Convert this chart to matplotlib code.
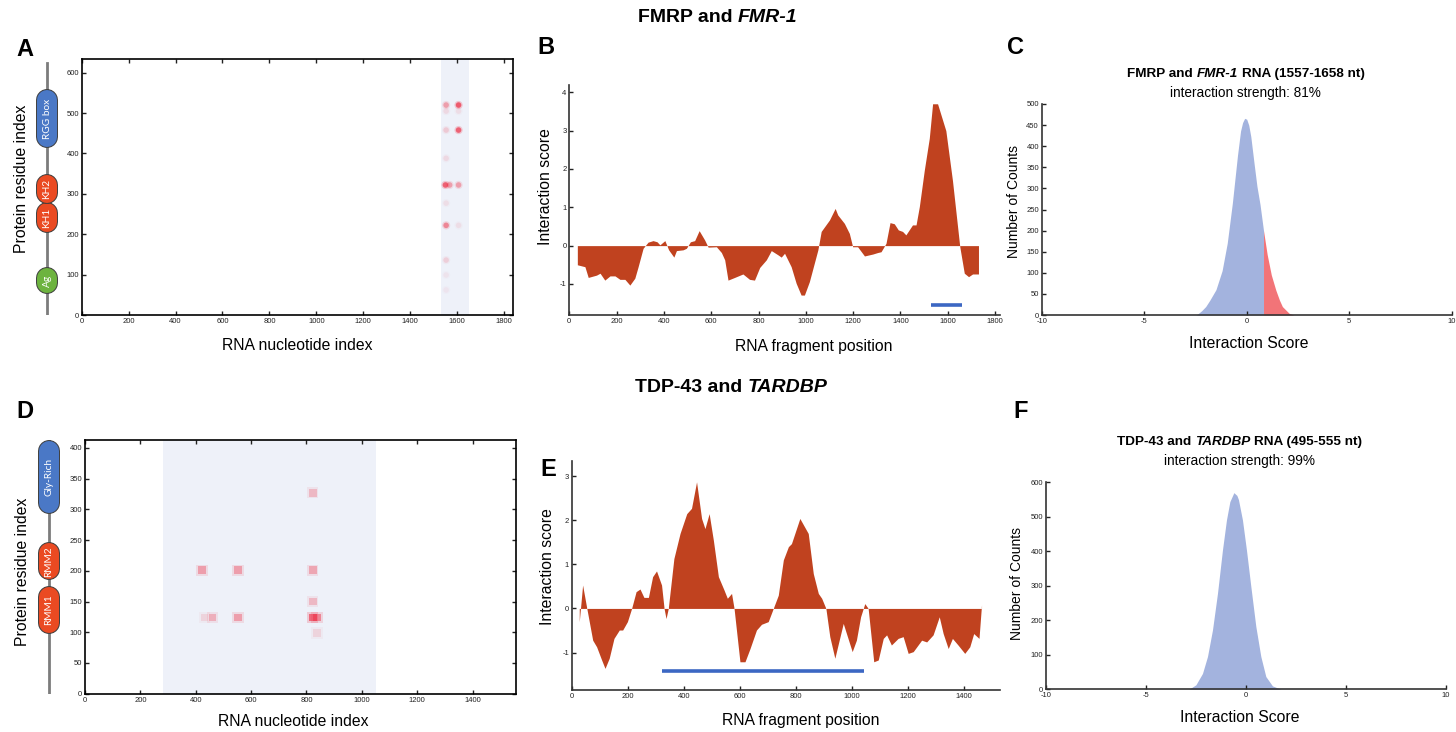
import numpy as np
import matplotlib.pyplot as plt
import matplotlib.patheffects as pe

plt.rcParams['font.family'] = ['Liberation Sans', 'DejaVu Sans']
plt.rcParams['axes.unicode_minus'] = False

# ── Data ─────────────────────────────────────────────────────────────────────
# A: FMRP / FMR-1 interaction map (spots: nucleotide, residue, intensity)
a_spot_nt = [1553, 1553, 1553, 1553, 1550, 1568, 1553, 1553, 1553, 1553, 1553,
             1606, 1606, 1606, 1606, 1606]
a_spot_res = [520, 505, 458, 388, 322, 322, 277, 222, 136, 99, 62,
              520, 505, 458, 322, 222]
a_spot_val = [0.45, 0.12, 0.2, 0.12, 0.85, 0.45, 0.1, 0.6, 0.18, 0.07, 0.06,
              0.9, 0.1, 0.85, 0.45, 0.1]
a_window = (1530, 1650)
a_dom_names = ['Ag', 'KH1', 'KH2', 'RGG box']
a_dom_start = [54, 205, 277, 416]
a_dom_end = [116, 277, 347, 557]
a_dom_colors = ['#6db33f', '#ea4a22', '#ea4a22', '#4a78c6']
a_length = 624

# B: FMRP / FMR-1 interaction profile
b_pos = [34, 66, 80, 115, 130, 150, 172, 193, 214, 235, 256, 277, 291, 312, 333,
         354, 371, 383, 404, 420, 442, 453, 481, 495, 512, 530, 549, 572, 587, 622,
         643, 657, 671, 699, 734, 762, 783, 805, 833, 854, 882, 896, 910, 938, 959,
         980, 994, 1015, 1051, 1065, 1100, 1124, 1135, 1163, 1184, 1198, 1219, 1248,
         1283, 1304, 1318, 1339, 1356, 1374, 1391, 1409, 1423, 1451, 1466, 1480,
         1501, 1522, 1536, 1557, 1592, 1620, 1651, 1670, 1688, 1705, 1730]
b_score = [-0.50, -0.55, -0.83, -0.77, -0.72, -0.90, -0.79, -0.79, -0.88, -0.88,
           -1.03, -0.85, -0.55, -0.07, 0.09, 0.13, 0.10, 0.02, 0.13, -0.11,
           -0.30, -0.13, -0.11, -0.07, 0.10, 0.13, 0.39, 0.15, -0.04, -0.03,
           -0.18, -0.37, -0.90, -0.83, -0.74, -0.88, -0.90, -0.57, -0.37, -0.13,
           -0.24, -0.30, -0.20, -0.55, -0.98, -1.29, -1.29, -0.94, -0.11, 0.37,
           0.67, 0.97, 0.80, 0.58, 0.32, -0.03, -0.03, -0.27, -0.22, -0.18,
           -0.16, 0.06, 0.60, 0.57, 0.41, 0.37, 0.28, 0.54, 0.54, 1.02,
           1.97, 2.80, 3.70, 3.70, 3.00, 1.70, -0.03, -0.72, -0.81, -0.74, -0.74]
b_region = (1529, 1660)

# C: FMRP score distribution
c_score = [-2.45, -2.2, -2.0, -1.8, -1.5, -1.2, -0.95, -0.7, -0.45, -0.3, -0.2,
           -0.1, 0.0, 0.1, 0.2, 0.36, 0.5, 0.65, 0.82, 1.0, 1.2, 1.42, 1.6, 1.74,
           2.07, 2.3]
c_counts = [0, 10, 20, 35, 60, 105, 170, 265, 378, 436, 456,
            466, 464, 450, 423, 359, 305, 262, 200, 143, 95, 59, 35, 20,
            4, 0]
c_cut = 0.82

# D: TDP-43 / TARDBP interaction map
d_spot_nt = [423, 553, 823, 823, 823, 823, 838, 838, 431, 461, 553]
d_spot_res = [201, 201, 201, 327, 150, 124, 124, 99, 124, 124, 124]
d_spot_val = [0.45, 0.45, 0.4, 0.3, 0.3, 0.8, 0.6, 0.15, 0.15, 0.35, 0.45]
d_window = (280, 1052)
d_dom_names = ['RMM1', 'RMM2', 'Gly-Rich']
d_dom_start = [99, 186, 294]
d_dom_end = [174, 245, 411]
d_dom_colors = ['#ea4a22', '#ea4a22', '#4a78c6']
d_length = 413

# E: TDP-43 / TARDBP interaction profile
e_pos = [27, 39, 54, 75, 89, 107, 119, 134, 151, 170, 182, 199, 214, 230, 244,
         258, 274, 289, 303, 321, 330, 337, 345, 365, 387, 411, 428, 446, 464, 476,
         491, 506, 524, 544, 556, 571, 580, 601, 619, 637, 660, 678, 702, 720, 738,
         756, 774, 785, 815, 845, 863, 881, 893, 908, 922, 940, 970, 1002, 1017,
         1032, 1047, 1059, 1079, 1095, 1113, 1125, 1142, 1166, 1184, 1202, 1220,
         1250, 1268, 1291, 1313, 1327, 1345, 1360, 1380, 1404, 1422, 1436, 1455, 1464]
e_score = [-0.30, 0.53, 0.00, -0.72, -0.87, -1.17, -1.36, -1.13, -0.68, -0.49,
           -0.49, -0.30, 0.00, 0.38, 0.44, 0.25, 0.25, 0.72, 0.85, 0.53,
           0.00, -0.23, 0.00, 1.13, 1.70, 2.15, 2.27, 2.87, 2.04, 1.81,
           2.15, 1.55, 0.72, 0.42, 0.23, 0.34, 0.00, -1.21, -1.21, -0.91,
           -0.49, -0.36, -0.30, 0.00, 0.30, 1.10, 1.40, 1.47, 2.04, 1.70,
           0.79, 0.34, 0.23, 0.00, -0.64, -1.13, -0.34, -0.98, -0.72, -0.19,
           0.11, 0.00, -1.21, -1.17, -0.68, -0.60, -0.83, -0.68, -0.64, -1.02,
           -0.98, -0.72, -0.76, -0.60, -0.19, -0.57, -0.91, -0.68, -0.83, -1.02,
           -0.87, -0.57, -0.68, 0.08]
e_region = (321, 1044)

# F: TDP-43 score distribution
f_score = [-2.85, -2.5, -2.17, -1.92, -1.67, -1.42, -1.17, -0.97, -0.8, -0.6,
           -0.45, -0.37, -0.17, 0.03, 0.25, 0.5, 0.75, 1.0, 1.33, 1.75]
f_counts = [0, 13, 46, 95, 172, 278, 404, 491, 544, 570,
            562, 550, 491, 404, 298, 182, 95, 37, 10, 0]

# ── Styling ──────────────────────────────────────────────────────────────────
RUST = '#c0421f'
BAR_BLUE = '#3c67c3'
DIST_BLUE = '#a3b3de'
DIST_RED = '#f27478'
SPOT_RED = (0.93, 0.16, 0.25)
SHADE = '#eef1f9'
TICK_FS = 5.5
LABEL_FS = 11.3

W, H = 1456, 732
fig = plt.figure(figsize=(W / 100, H / 100), dpi=100)


def px_box(l, t, r, b):
    return [l / W, 1 - b / H, (r - l) / W, (b - t) / H]


def ftext(x, y, s, **kw):
    kw.setdefault('ha', 'center')
    kw.setdefault('va', 'center')
    return fig.text(x / W, 1 - y / H, s, **kw)


def rich_text(cx, cy, parts, size):
    """Centre a line made of differently styled pieces at pixel (cx, cy)."""
    r = fig.canvas.get_renderer()
    texts = [ftext(0, cy, s, ha='left', fontsize=size, weight=w, style=st)
             for s, w, st in parts]
    gap = 0.278 * size * fig.dpi / 72
    widths = [t.get_window_extent(r).width for t in texts]
    x = cx - (sum(widths) + gap * (len(parts) - 1)) / 2
    for t, w in zip(texts, widths):
        t.set_x(x / W)
        x += w + gap


def style_open(ax):
    for s in ['top', 'right']:
        ax.spines[s].set_visible(False)
    for s in ['left', 'bottom']:
        ax.spines[s].set_color('#333333')
        ax.spines[s].set_linewidth(1.2)
    ax.tick_params(direction='in', length=3, width=1, labelsize=TICK_FS, pad=2,
                   colors='#222222')


def style_map(ax):
    for s in ax.spines.values():
        s.set_linewidth(1.2)
    ax.tick_params(direction='in', length=3, width=1, labelsize=TICK_FS, pad=2,
                   top=True, right=True, colors='#222222')


def spots(ax, xs, ys, vals, marker, size):
    cols = [SPOT_RED + (0.25 * v,) for v in vals]
    ax.scatter(xs, ys, s=size * 2.2, marker=marker, c=cols, linewidths=0, zorder=3)
    cols = [SPOT_RED + (0.75 * v,) for v in vals]
    ax.scatter(xs, ys, s=size, marker=marker, c=cols, linewidths=0, zorder=4)


def domains(ax, names, starts, ends, colors, length):
    ax.set_xlim(0, 1)
    ax.axis('off')
    ax.plot([0.5, 0.5], [0, length], color='#7c7c7c', lw=2, zorder=1)
    lw = 14.4
    p0 = ax.transData.transform((0, 0))
    p1 = ax.transData.transform((0, 1))
    cap = (lw / 2 * fig.dpi / 72) / (p1[1] - p0[1])
    for n, s, e, c in zip(names, starts, ends, colors):
        ax.plot([0.5, 0.5], [s + cap, max(e - cap, s + cap)], color=c, lw=lw,
                solid_capstyle='round', zorder=2,
                path_effects=[pe.Stroke(linewidth=lw + 1.4, foreground='#3d3d3d'),
                              pe.Normal()])
        ax.text(0.5, (s + e) / 2, n, rotation=90, color='white', fontsize=7.3,
                ha='center', va='center', zorder=3, family=['Lato', 'DejaVu Sans'])


# ── A ────────────────────────────────────────────────────────────────────────
axA = fig.add_axes(px_box(81.7, 59, 513, 315))
axA.axvspan(*a_window, color=SHADE, lw=0, zorder=0)
spots(axA, a_spot_nt, a_spot_res, a_spot_val, 'o', 16)
axA.set_xlim(0, 1838)
axA.set_ylim(0, 634)
axA.set_xticks(range(0, 1801, 200))
axA.set_yticks(range(0, 601, 100))
style_map(axA)
domA = fig.add_axes(px_box(30, 59, 64, 315), sharey=axA)
axA.set_ylim(0, 634)
domains(domA, a_dom_names, a_dom_start, a_dom_end, a_dom_colors, a_length)

# ── B ────────────────────────────────────────────────────────────────────────
axB = fig.add_axes(px_box(569.3, 85, 1000, 315))
axB.fill_between(b_pos, b_score, 0, color=RUST, lw=0)
axB.plot(b_region, [-1.55, -1.55], color=BAR_BLUE, lw=2.6, solid_capstyle='butt')
axB.set_xlim(0, 1821)
axB.set_ylim(-1.81, 4.19)
axB.set_xticks(range(0, 1801, 200))
axB.set_yticks(range(-1, 5))
style_open(axB)

# ── C ────────────────────────────────────────────────────────────────────────
axC = fig.add_axes(px_box(1041.7, 104, 1451.7, 315))
cx = np.array(c_score)
cy = np.array(c_counts)
axC.fill_between(cx, cy, 0, where=cx <= c_cut, color=DIST_BLUE, lw=0)
axC.fill_between(cx, cy, 0, where=cx >= c_cut, color=DIST_RED, lw=0)
axC.set_xlim(-10, 10)
axC.set_ylim(0, 500)
axC.set_xticks([-10, -5, 0, 5, 10])
axC.set_yticks(range(0, 501, 50))
style_open(axC)

# ── D ────────────────────────────────────────────────────────────────────────
axD = fig.add_axes(px_box(85, 440, 516, 694.3))
axD.axvspan(*d_window, color=SHADE, lw=0, zorder=0)
spots(axD, d_spot_nt, d_spot_res, d_spot_val, 's', 30)
axD.set_xlim(0, 1557)
axD.set_ylim(0, 413)
axD.set_xticks(range(0, 1401, 200))
axD.set_yticks(range(0, 401, 50))
style_map(axD)
domD = fig.add_axes(px_box(32, 440, 66, 694.3), sharey=axD)
axD.set_ylim(-1, 413)
domains(domD, d_dom_names, d_dom_start, d_dom_end, d_dom_colors, d_length)

# ── E ────────────────────────────────────────────────────────────────────────
axE = fig.add_axes(px_box(571.7, 460.7, 1000, 690))
axE.fill_between(e_pos, e_score, 0, color=RUST, lw=0)
axE.plot(e_region, [-1.41, -1.41], color=BAR_BLUE, lw=2.6, solid_capstyle='butt')
axE.set_xlim(0, 1530)
axE.set_ylim(-1.85, 3.35)
axE.set_xticks(range(0, 1401, 200))
axE.set_yticks(range(-1, 4))
style_open(axE)

# ── F ────────────────────────────────────────────────────────────────────────
axF = fig.add_axes(px_box(1046, 482.3, 1445.7, 689.3))
axF.fill_between(f_score, f_counts, 0, color=DIST_BLUE, lw=0)
axF.set_xlim(-10, 10)
axF.set_ylim(0, 600)
axF.set_xticks([-10, -5, 0, 5, 10])
axF.set_yticks(range(0, 601, 100))
style_open(axF)

# ── Text ─────────────────────────────────────────────────────────────────────
for letter, x, y in [('A', 25, 50), ('B', 546, 48), ('C', 1015, 48),
                     ('D', 25, 412), ('E', 548, 469), ('F', 1021, 411)]:
    ftext(x, y, letter, fontsize=17, weight='bold')

ftext(297, 346, 'RNA nucleotide index', fontsize=LABEL_FS)
ftext(22, 179, 'Protein residue index', fontsize=LABEL_FS, rotation=90)
ftext(814, 346, 'RNA fragment position', fontsize=LABEL_FS)
ftext(546, 187, 'Interaction score', fontsize=LABEL_FS, rotation=90)
ftext(1249, 343, 'Interaction Score', fontsize=LABEL_FS)
ftext(1014, 201, 'Number of Counts', fontsize=10, rotation=90)

ftext(293, 721, 'RNA nucleotide index', fontsize=LABEL_FS)
ftext(23, 572, 'Protein residue index', fontsize=LABEL_FS, rotation=90)
ftext(801, 720, 'RNA fragment position', fontsize=LABEL_FS)
ftext(547, 567, 'Interaction score', fontsize=LABEL_FS, rotation=90)
ftext(1240, 718, 'Interaction Score', fontsize=LABEL_FS)
ftext(1017, 584, 'Number of Counts', fontsize=10, rotation=90)

rich_text(717.5, 18, [('FMRP and', 'bold', 'normal'), ('FMR-1', 'bold', 'italic')], 14)
rich_text(731.7, 387, [('TDP-43 and', 'bold', 'normal'), ('TARDBP', 'bold', 'italic')], 14)
rich_text(1245.7, 74, [('FMRP and', 'bold', 'normal'), ('FMR-1', 'bold', 'italic'),
                       ('RNA (1557-1658 nt)', 'bold', 'normal')], 9.7)
ftext(1245.7, 93, 'interaction strength: 81%', fontsize=9.8)
rich_text(1239.7, 442, [('TDP-43 and', 'bold', 'normal'), ('TARDBP', 'bold', 'italic'),
                        ('RNA (495-555 nt)', 'bold', 'normal')], 9.7)
ftext(1239.7, 461, 'interaction strength: 99%', fontsize=9.8)

fig.savefig('out.png', dpi=100)
